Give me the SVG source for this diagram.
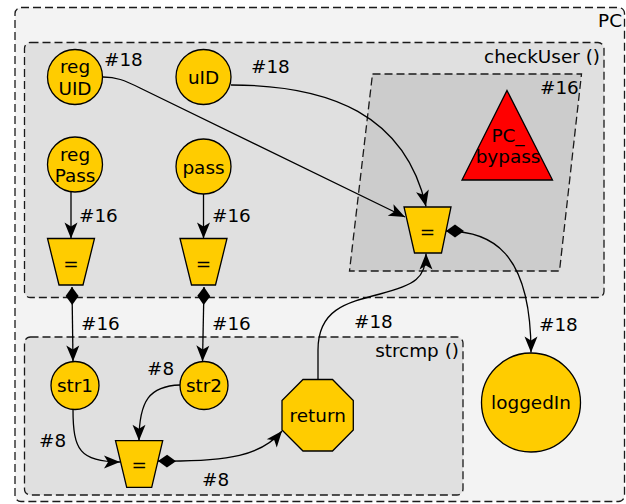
<svg xmlns="http://www.w3.org/2000/svg" width="626" height="504" viewBox="0 0 626 504">
  <style>
    text { font-family: "DejaVu Sans", "Liberation Sans", sans-serif; font-size: 18.4px; fill: #000; }
    .mid { text-anchor: middle; }
    .end { text-anchor: end; }
    .frame { stroke: #1a1a1a; stroke-width: 1.3; stroke-dasharray: 8 4; }
    .node { fill: #ffcc00; stroke: #000; stroke-width: 1.3; }
    .edge { fill: none; stroke: #000; stroke-width: 1.3; }
    .arrow { marker-end: url(#arrow); }
    .diam { marker-start: url(#diamond); }
  </style>
  <defs>
    <marker id="arrow" markerUnits="userSpaceOnUse" markerWidth="16" markerHeight="13" refX="16" refY="6.5" orient="auto" overflow="visible">
      <path d="M0,0 L16,6.5 L0,13 L4,6.5 Z" fill="#000"/>
    </marker>
    <marker id="diamond" markerUnits="userSpaceOnUse" markerWidth="18" markerHeight="13" refX="0" refY="6.5" orient="auto" overflow="visible">
      <path d="M0,6.5 L9,0 L18,6.5 L9,13 Z" fill="#000"/>
    </marker>
  </defs>

  <!-- containers -->
  <g id="PC">
    <rect x="15" y="7.5" width="609.5" height="494" rx="6" fill="#f3f3f3" class="frame"/>
    <text x="622" y="26.5" class="end">PC</text>
  </g>
  <g id="checkUser">
    <rect x="24.5" y="42.5" width="579.5" height="255" rx="6" fill="#e0e0e0" class="frame"/>
    <text x="600" y="62.5" class="end">checkUser ()</text>
  </g>
  <g id="strcmp">
    <rect x="24.5" y="337" width="438.5" height="158" rx="6" fill="#e0e0e0" class="frame"/>
    <text x="459" y="357" class="end">strcmp ()</text>
  </g>
  <g id="region16">
    <polygon points="372.5,74 581.5,74 559.5,271 349.5,271" fill="#cccccc" class="frame"/>
    <text x="540" y="94">#16</text>
  </g>

  <!-- nodes -->
  <g id="PC_bypass">
    <polygon points="507,90.5 552.5,180 462,180" fill="#ff0000" stroke="#000" stroke-width="1.3"/>
    <text x="508" y="142" class="mid">PC_</text>
    <text x="508" y="163" class="mid">bypass</text>
  </g>
  <g id="regUID">
    <circle cx="75" cy="77" r="27.5" class="node"/>
    <text x="75" y="73" class="mid">reg</text>
    <text x="75" y="95" class="mid">UID</text>
  </g>
  <g id="uID">
    <circle cx="203.5" cy="77" r="27.5" class="node"/>
    <text x="203.5" y="83.5" class="mid">uID</text>
  </g>
  <g id="regPass">
    <circle cx="75" cy="164.5" r="27.5" class="node"/>
    <text x="75" y="160.5" class="mid">reg</text>
    <text x="75" y="182" class="mid">Pass</text>
  </g>
  <g id="pass">
    <circle cx="203.5" cy="166.5" r="27.5" class="node"/>
    <text x="203.5" y="173.5" class="mid">pass</text>
  </g>
  <g id="eqPass">
    <polygon points="47.5,238.5 94.5,238.5 83,285 59,285" class="node"/>
    <text x="71" y="269.5" class="mid">=</text>
  </g>
  <g id="eqInput">
    <polygon points="180,238.5 227,238.5 215.5,285 191.5,285" class="node"/>
    <text x="203.5" y="269.5" class="mid">=</text>
  </g>
  <g id="eqUID">
    <polygon points="404,207 451,207 441.5,253 414.5,253" class="node"/>
    <text x="427.5" y="238" class="mid">=</text>
  </g>
  <g id="str1">
    <circle cx="75" cy="385.5" r="24" class="node"/>
    <text x="75" y="392" class="mid">str1</text>
  </g>
  <g id="str2">
    <circle cx="204" cy="385.5" r="24" class="node"/>
    <text x="204" y="392" class="mid">str2</text>
  </g>
  <g id="eqStr">
    <polygon points="115.5,440.7 162.7,440.7 151.7,487.3 126.7,487.3" class="node"/>
    <text x="139.2" y="471" class="mid">=</text>
  </g>
  <g id="return">
    <polygon points="303,379.5 332.5,379.5 353.3,400.5 353.3,430 332.5,451 303,451 282,430 282,400.5" class="node"/>
    <text x="317.7" y="422" class="mid">return</text>
  </g>
  <g id="loggedIn">
    <circle cx="531" cy="402.5" r="49.5" class="node"/>
    <text x="531" y="409" class="mid">loggedIn</text>
  </g>

  <!-- connectors -->
  <g id="connectors">
    <path d="M103,77 C116,77 124,80 140,88 L405,217" class="edge arrow"/>
    <path d="M231,85 C330,85 405,115 426,206.5" class="edge arrow"/>
    <path d="M446,231 C490,231 531,250 531,352.5" class="edge arrow diam"/>
    <path d="M318,379.5 L318,350 C318,310 345,303 380,294 C415,285 426,278 426,253.5" class="edge arrow"/>
    <path d="M71,192 L71,238.5" class="edge arrow"/>
    <path d="M203.5,194 L203.5,238.5" class="edge arrow"/>
    <path d="M72,287 L73,361.5" class="edge arrow diam"/>
    <path d="M204,287 L202.5,361.5" class="edge arrow diam"/>
    <path d="M73,409.5 C73,450 80,462 120,462" class="edge arrow"/>
    <path d="M180,385 C150,386 139,400 139,440.7" class="edge arrow"/>
    <path d="M158,461 C230,462 262,455 282,431" class="edge arrow diam"/>

    <text x="104" y="66">#18</text>
    <text x="251" y="73">#18</text>
    <text x="79" y="222">#16</text>
    <text x="212" y="222">#16</text>
    <text x="81" y="330">#16</text>
    <text x="212" y="330">#16</text>
    <text x="147" y="375">#8</text>
    <text x="39" y="447">#8</text>
    <text x="202" y="486">#8</text>
    <text x="354" y="328">#18</text>
    <text x="539" y="331">#18</text>
  </g>
</svg>
